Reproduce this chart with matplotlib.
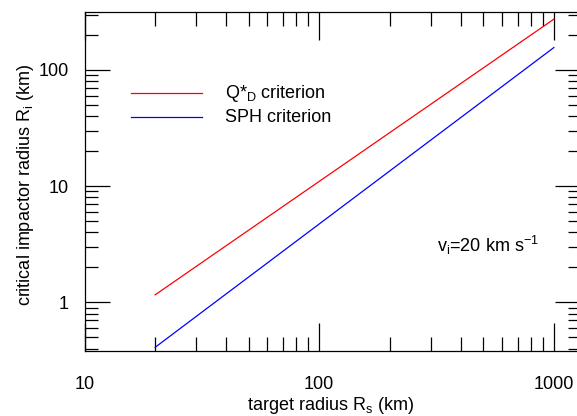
import numpy as np
import matplotlib.pyplot as plt
from matplotlib.lines import Line2D
from matplotlib.ticker import LogLocator, NullFormatter, FixedLocator, FixedFormatter

plt.rcParams['font.family'] = ['Liberation Sans', 'DejaVu Sans']
plt.rcParams['mathtext.fontset'] = 'custom'
plt.rcParams['mathtext.rm'] = 'Liberation Sans'
plt.rcParams['mathtext.it'] = 'Liberation Sans'

# target radius (km) and critical impactor radius (km)
target_radius = [20, 1000]
qd_radius = [1.16, 274]
sph_radius = [0.41, 156]

x_ticks = [10, 100, 1000]
y_ticks = [1, 10, 100]

W, H = 577, 416
fs = 13
x0, x1 = 84.5, 579.5

fig = plt.figure(figsize=(W / 100, H / 100), dpi=100)
ax = fig.add_axes([x0 / W, 65 / H, (x1 - x0) / W, 339 / H])

ax.plot(target_radius, qd_radius, color='#ff0000', lw=0.9)
ax.plot(target_radius, sph_radius, color='#0000ff', lw=0.9)

ax.set_xscale('log')
ax.set_yscale('log')
ax.set_xlim(10, 10 ** (1 + (x1 - x0) / 234.7))
ax.set_ylim(0.381, 315.5)

ax.xaxis.set_major_locator(FixedLocator(x_ticks))
ax.xaxis.set_major_formatter(FixedFormatter([str(t) for t in x_ticks]))
ax.yaxis.set_major_locator(FixedLocator(y_ticks))
ax.yaxis.set_major_formatter(FixedFormatter([str(t) for t in y_ticks]))
ax.xaxis.set_minor_locator(LogLocator(base=10, subs=np.arange(2, 10)))
ax.yaxis.set_minor_locator(LogLocator(base=10, subs=np.arange(2, 10)))
ax.xaxis.set_minor_formatter(NullFormatter())
ax.yaxis.set_minor_formatter(NullFormatter())

ax.tick_params(which='both', direction='in', top=True, right=True, width=0.9,
               labelsize=fs, colors='black')
ax.tick_params(axis='x', which='major', length=20, pad=18)
ax.tick_params(axis='x', which='minor', length=10)
ax.tick_params(axis='y', which='major', length=18, pad=11.5)
ax.tick_params(axis='y', which='minor', length=9)
for s in ax.spines.values():
    s.set_linewidth(0.9)

ax.set_xlabel('target radius R$_\\mathregular{s}$ (km)', fontsize=fs)
ax.set_ylabel('critical impactor radius R$_\\mathregular{i}$ (km)', fontsize=fs)
ax.xaxis.set_label_coords((330 - x0) / (x1 - x0), -(405 - 351) / 339)
ax.yaxis.set_label_coords(-(x0 - 25) / (x1 - x0), (351 - 185) / 339)
ax.xaxis.label.set_va('center')
ax.yaxis.label.set_va('center')

# legend drawn by hand to match layout
for yy, col, lab in [(93, '#ff0000', 'Q*$_\\mathregular{D}$ criterion'),
                     (117, '#0000ff', 'SPH criterion')]:
    yf = 1 - yy / H
    fig.add_artist(Line2D([131 / W, 202 / W], [yf, yf], color=col, lw=0.9))
    fig.text(225 / W, yf, lab, fontsize=fs, va='center', ha='left')

fig.text(437 / W, 1 - 245 / H, 'v$_\\mathregular{i}$=20 km s$^{\\mathregular{-1}}$',
         fontsize=fs, va='center', ha='left')

fig.savefig('out.png', dpi=100)
